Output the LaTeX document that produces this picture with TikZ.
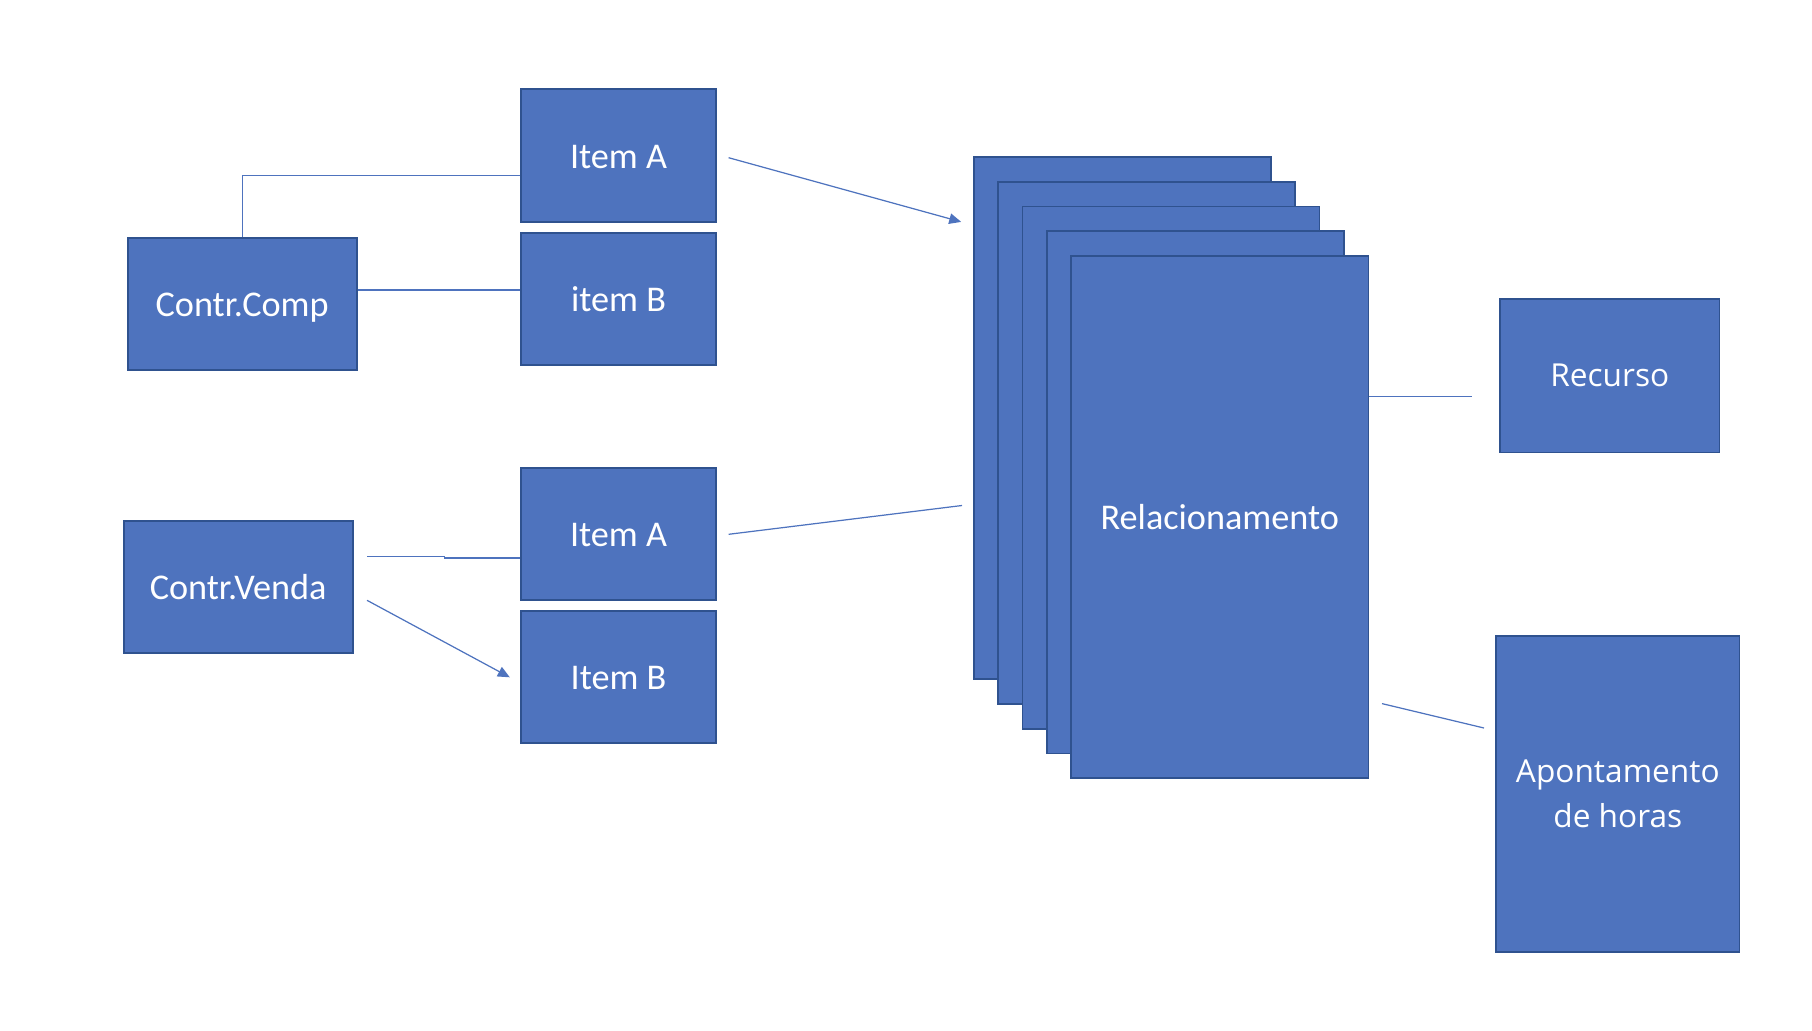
\documentclass[tikz,border=0pt]{standalone}
\usepackage{fontspec}
\setmainfont{Carlito}
\newfontfamily\uifont{Open Sans}
\usetikzlibrary{arrows.meta,calc}

\definecolor{boxblue}{RGB}{78,115,190}
\definecolor{boxedge}{RGB}{47,82,143}

\tikzset{
	panel/.style={draw=boxedge, fill=boxblue, line width=0.5pt, text=white, inner sep=0pt},
	box/.style={panel, text height=8.9pt, text depth=1.8pt,
		font=\fontsize{10.3}{12}\selectfont},
	uibox/.style={panel, align=center, font=\uifont\fontsize{9}{12.8}\selectfont},
	link/.style={draw=boxblue, line width=0.35pt},
	tip/.style={-{Triangle[length=3.4pt, width=3pt]}},
}

\begin{document}
\begin{tikzpicture}[x=0.01cm, y=-0.01cm]
	\useasboundingbox (0,0) rectangle (1812,1030);
	% contratos e itens
	\node[box, minimum width=2.29cm, minimum height=1.323cm] (compra) at (242.2,303.9) {Contr.Comp};
	\node[box, minimum width=2.29cm, minimum height=1.326cm] (venda) at (238.2,587) {Contr.Venda};
	\node[box, minimum width=1.942cm, minimum height=1.33cm] (itemA1) at (618.5,155.8) {Item A};
	\node[box, minimum width=1.942cm, minimum height=1.323cm] (itemB1) at (618.5,298.9) {item B};
	\node[box, minimum width=1.942cm, minimum height=1.326cm] (itemA2) at (618.5,534) {Item A};
	\node[box, minimum width=1.942cm, minimum height=1.326cm] (itemB2) at (618.5,677) {Item B};
	% pilha de relacionamentos
	\foreach \i in {0,...,3}
		\node[panel, minimum width=2.97cm, minimum height=5.22cm] (rel\i) at ({1122.2+24.4*\i},{418+24.8*\i}) {};
	\node[box, minimum width=2.97cm, minimum height=5.22cm] (rel4) at (1219.8,517.2) {Relacionamento};
	% lado direito
	\node[uibox, minimum width=2.19cm, minimum height=1.538cm] (recurso) at (1609.8,375.6) {Recurso};
	\node[uibox, minimum width=2.43cm, minimum height=3.159cm] (horas) at (1617.8,793.7) {Apontamento\\de horas};

	\coordinate (a1out) at (728.6,157.7);
	\coordinate (relin1) at (961.2,221.9);
	\coordinate (a2out) at (728.6,534.3);
	\coordinate (relin2) at (962,505.5);
	\coordinate (vout1) at (367,556.3);
	\coordinate (vout2) at (367,600.3);
	\coordinate (b2in) at (509.8,677.3);
	\coordinate (relout1) at (1369.2,396.3);
	\coordinate (recin) at (1472.3,396.3);
	\coordinate (relout2) at (1382,703.6);
	\coordinate (horin) at (1484,728);

	\draw[link] (compra.north) |- ($(itemA1.west)+(0,19.5)$);
	\draw[link] ($(compra.east)+(0,-13.9)$) -- ($(itemB1.west)+(0,-8.9)$);
	\draw[link] (vout1) -- (444.2,556.3) -- (444.2,558) -- ($(itemA2.west)+(0,24)$);
	\draw[link, tip] (vout2) -- (b2in);
	\draw[link, tip] (a1out) -- (relin1);
	\draw[link] (a2out) -- (relin2);
	\draw[link] (relout1) -- (recin);
	\draw[link] (relout2) -- (horin);
\end{tikzpicture}
\end{document}
